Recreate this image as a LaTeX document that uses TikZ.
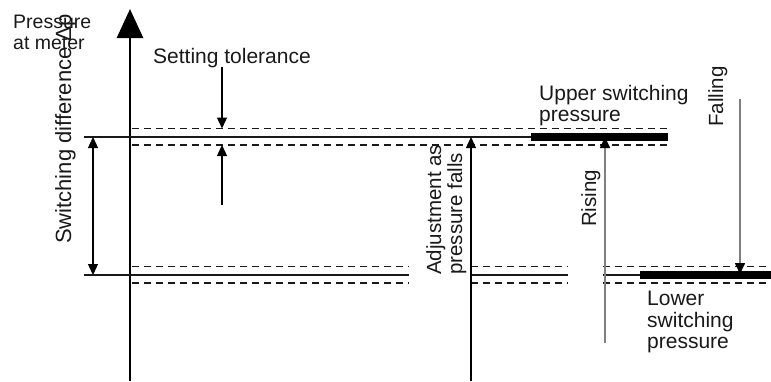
\documentclass[tikz,border=0pt]{standalone}
\usepackage{fontspec}
\setmainfont{Liberation Sans}
\usetikzlibrary{arrows.meta}
\begin{document}
\begin{tikzpicture}[x=1pt,y=-1pt,
  lbl/.style={inner sep=0, font=\fontsize{21}{24}\selectfont, text=black!90},
  rlbl/.style={inner sep=0, rotate=90, font=\fontsize{20.5}{24}\selectfont, text=black!90},
  levelline/.style={line width=2.8pt, draw=black!90},
  tol/.style={line width=1.8pt, draw=black!90, dash pattern=on 7pt off 5pt},
  thickbar/.style={line width=8pt},
  tip/.style={-{Triangle[length=11pt,width=10pt,color=black]}},
  arr/.style={line width=1.3pt, tip},
  garr/.style={line width=1.6pt, draw=black!50, tip},
]
\useasboundingbox (0,0) rectangle (771,381);
% axis
\coordinate (axb) at (130,381);
\coordinate (axt) at (130,9);
\draw[line width=2.8pt, -{Triangle[length=29pt,width=26pt]}] (axb) -- (axt);
% upper level
\coordinate (u0) at (84,137);
\coordinate (u1) at (531,137);
\coordinate (u2) at (668,137);
\draw[levelline] (u0) -- (u1);
\draw[thickbar] (u1) -- (u2);
\coordinate (ut0) at (132,128.5); \coordinate (ut1) at (668,128.5);
\coordinate (ub0) at (132,145);   \coordinate (ub1) at (668,145);
\draw[tol] (ut0) -- (ut1);
\draw[tol] (ub0) -- (ub1);
% lower level
\coordinate (l0) at (84,275);  \coordinate (l1) at (409,275);
\coordinate (l2) at (471,275); \coordinate (l3) at (568,275);
\coordinate (l4) at (603,275); \coordinate (l5) at (640,275); \coordinate (l6) at (771,275);
\draw[levelline] (l0) -- (l1);
\draw[levelline] (l2) -- (l3);
\draw[levelline] (l4) -- (l5);
\draw[thickbar] (l5) -- (l6);
\foreach \y in {266.5,283}{
  \draw[tol] (132,\y) -- (409,\y);
  \draw[tol] (471,\y) -- (568,\y);
  \draw[tol] (603,\y) -- (771,\y);
}
% labels
\node[lbl, anchor=base west, font=\fontsize{19.5}{22}\selectfont] (pm1) at (13,28) {Pressure};
\node[lbl, anchor=base west, font=\fontsize{19.5}{22}\selectfont] (pm2) at (13,49) {at meter};
\node[lbl, anchor=base west] (st) at (153,63) {Setting tolerance};
\node[lbl, anchor=base west] (up1) at (539,100) {Upper switching};
\node[lbl, anchor=base west] (up2) at (539,121) {pressure};
\node[lbl, anchor=base west] (lo1) at (647,305) {Lower};
\node[lbl, anchor=base west] (lo2) at (647,327) {switching};
\node[lbl, anchor=base west] (lo3) at (647,348) {pressure};
\node[rlbl, anchor=base west, font=\fontsize{22}{24}\selectfont] (sd) at (71,244) {Switching difference Δp};
\node[rlbl, anchor=base west] (adj1) at (441,275) {Adjustment as};
\node[rlbl, anchor=base west] (adj2) at (462,275) {pressure falls};
\node[rlbl, anchor=base west] (ris) at (596,227) {Rising};
\node[rlbl, anchor=base west] (fal) at (723,127) {Falling};
% setting tolerance arrows
\coordinate (s1) at (222,67);  \coordinate (s1e) at (222,128.5);
\coordinate (s2) at (222,205); \coordinate (s2e) at (222,145);
\draw[arr] (s1) -- (s1e);
\draw[arr] (s2) -- (s2e);
% switching difference
\coordinate (d1) at (93,137); \coordinate (d2) at (93,275);
\draw[line width=1.3pt, {Triangle[length=11pt,width=10pt]}-{Triangle[length=11pt,width=10pt]}] (d1) -- (d2);
% adjustment
\coordinate (a0) at (471,381); \coordinate (a1) at (471,137);
\draw[arr] (a0) -- (a1);
% rising
\coordinate (r0) at (605,343); \coordinate (r1) at (605,137);
\draw[garr] (r0) -- (r1);
% falling
\coordinate (f0) at (740,99); \coordinate (f1) at (740,274);
\draw[garr] (f0) -- (f1);
\end{tikzpicture}
\end{document}
